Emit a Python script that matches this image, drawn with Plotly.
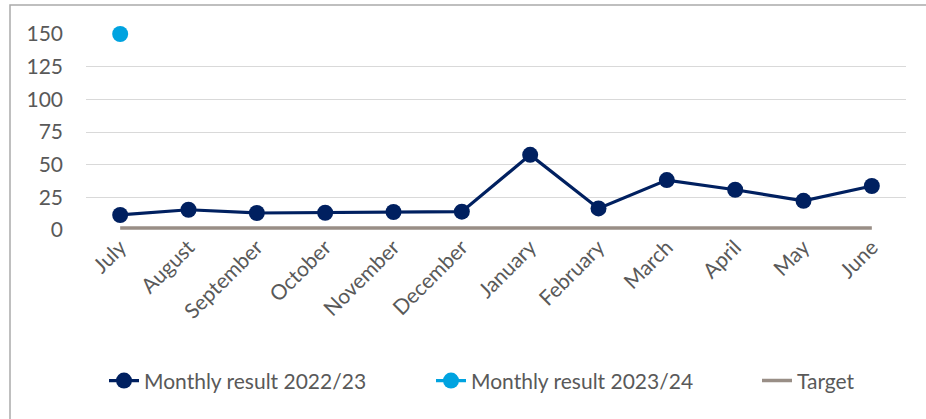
import plotly.graph_objects as go

months = ["July", "August", "September", "October", "November", "December",
          "January", "February", "March", "April", "May", "June"]
result_2022_23 = [11.5, 15.5, 13, 13.2, 13.8, 14, 57.5, 16.5, 38.2, 30.8, 22.3, 33.7]
result_2023_24 = [150]
target = [1.5] * 12
y_ticks = [0, 25, 50, 75, 100, 125, 150]

NAVY = "#002060"
BLUE = "#00A3E0"
TARGET = "#998E86"
FONT = "Lato"

fig = go.Figure()
fig.add_trace(go.Scatter(x=months, y=target, mode="lines", name="Target",
                         line=dict(color=TARGET, width=3.5), legend="legend3",
                         cliponaxis=False))
fig.add_trace(go.Scatter(x=months, y=result_2022_23, mode="lines+markers",
                         name="Monthly result 2022/23",
                         line=dict(color=NAVY, width=3.2),
                         marker=dict(color=NAVY, size=16), legend="legend",
                         cliponaxis=False))
fig.add_trace(go.Scatter(x=months[:len(result_2023_24)], y=result_2023_24,
                         mode="lines+markers", name="Monthly result 2023/24",
                         line=dict(color=BLUE, width=3.2),
                         marker=dict(color=BLUE, size=16), legend="legend2",
                         cliponaxis=False))

def leg(px):
    return dict(orientation="h", x=(px - 86) / 820, xanchor="left", y=-0.77,
                yanchor="middle", font=dict(size=21, color="#595959"),
                itemwidth=30, bgcolor="rgba(0,0,0,0)")

fig.update_layout(
    width=926, height=419,
    margin=dict(l=86, r=20, t=34, b=189),
    paper_bgcolor="white", plot_bgcolor="white",
    font=dict(family=FONT, color="#595959", size=21),
    showlegend=True,
    legend=leg(104), legend2=leg(431), legend3=leg(757),
    xaxis=dict(type="category", categoryorder="array", categoryarray=months,
               tickangle=-45, showgrid=False, showline=False, ticks="",
               tickfont=dict(size=21), range=[-0.5, 11.5]),
    yaxis=dict(range=[0, 150], tickvals=y_ticks, showgrid=True,
               gridcolor="#D9D9D9", gridwidth=1.3, zeroline=False, showline=False,
               ticks="", tickfont=dict(size=21), ticklabelstandoff=22),
    shapes=[dict(type="rect", xref="paper", yref="paper",
                 x0=(10 - 86) / 820, x1=(930 - 86) / 820,
                 y0=(230 - 425) / 196, y1=(230 - 5) / 196,
                 line=dict(color="#ABABAB", width=1.5), fillcolor="rgba(0,0,0,0)",
                 layer="below")],
)

fig.write_html("out.html")
